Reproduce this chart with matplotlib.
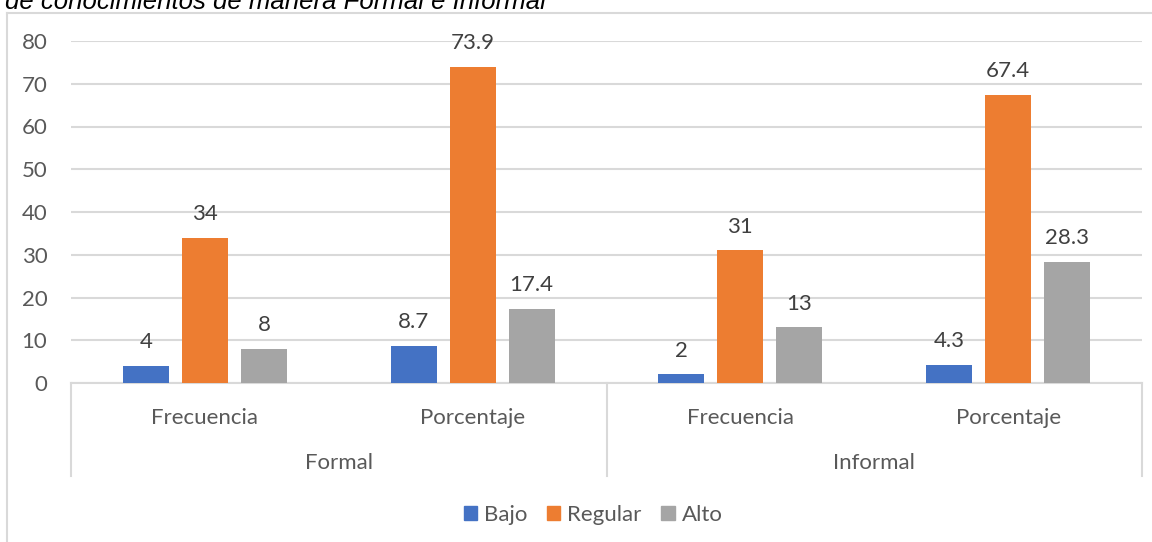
import matplotlib
matplotlib.use('Agg')
import matplotlib.pyplot as plt
from matplotlib.lines import Line2D
from matplotlib.patches import Patch
import numpy as np

# datos
subcats = ['Frecuencia', 'Porcentaje', 'Frecuencia', 'Porcentaje']
groups = ['Formal', 'Informal']
series = ['Bajo', 'Regular', 'Alto']
bajo = [4, 8.7, 2, 4.3]
regular = [34, 73.9, 31, 67.4]
alto = [8, 17.4, 13, 28.3]
colors = ['#4472C4', '#ED7D31', '#A5A5A5']
title = 'de conocimientos de manera Formal e Informal'

W, H = 1152, 542
fig = plt.figure(figsize=(W / 100, H / 100), dpi=100)
ax = fig.add_axes([71 / W, 1 - 383 / H, (1142 - 71) / W, (383 - 41) / H])

font = 'Lato'
fs = 16
grid_c = '#D9D9D9'
txt_c = '#595959'

x = np.arange(len(subcats))
width = 0.172
step = 0.2206
for i, (vals, c) in enumerate(zip([bajo, regular, alto], colors)):
    pos = x + (i - 1) * step
    bars = ax.bar(pos, vals, width, color=c, zorder=3, label=series[i])
    for p, v in zip(pos, vals):
        ax.annotate(f'{v:g}', (p, v), xytext=(0, 17), textcoords='offset points',
                    ha='center', va='center', fontsize=fs, color='#404040',
                    family=font)

ax.set_xlim(-0.5, len(subcats) - 0.5)
ax.set_ylim(0, 80)
ax.set_yticks(np.arange(0, 81, 10))
ax.tick_params(axis='y', length=0, pad=17, labelsize=fs, labelcolor=txt_c)
for lab in ax.get_yticklabels():
    lab.set_family(font)
ax.set_xticks([])
ax.yaxis.grid(True, color=grid_c, linewidth=1.5, zorder=0)
for s in ['top', 'right', 'left']:
    ax.spines[s].set_visible(False)
ax.spines['bottom'].set_color(grid_c)
ax.spines['bottom'].set_linewidth(1.5)

# etiquetas de dos niveles
tr = ax.get_xaxis_transform()
for xi, lab in zip(x, subcats):
    ax.text(xi, -0.102, lab, transform=tr, ha='center', va='center',
            fontsize=fs, color=txt_c, family=font)
for gi, g in enumerate(groups):
    ax.text(gi * 2 + 0.5, -0.234, g, transform=tr, ha='center', va='center',
            fontsize=fs, color=txt_c, family=font)
for xs in [-0.5, 1.5, 3.5]:
    ax.plot([xs, xs], [0, -0.272], transform=tr, color=grid_c, linewidth=1.5,
            clip_on=False)

handles = [Patch(color=c, label=s) for c, s in zip(colors, series)]
leg = fig.legend(handles=handles, loc='center', bbox_to_anchor=(593 / W, 1 - 515 / H),
                 ncol=3, frameon=False, handlelength=0.6, handleheight=0.6,
                 handletextpad=0.3, columnspacing=0.9,
                 prop={'family': font, 'size': fs})
for t in leg.get_texts():
    t.set_color(txt_c)

# borde del area del grafico
fig.add_artist(Line2D([7 / W, 7 / W], [0, 1 - 13 / H], color=grid_c, linewidth=1.5))
fig.add_artist(Line2D([7 / W, 1], [1 - 13 / H, 1 - 13 / H], color=grid_c, linewidth=1.5))

fig.text(5 / W, 1 - 9 / H, title, style='italic', family='Liberation Sans',
         fontsize=18.5, va='baseline', ha='left', color='black')

fig.savefig('out.png', dpi=100)
